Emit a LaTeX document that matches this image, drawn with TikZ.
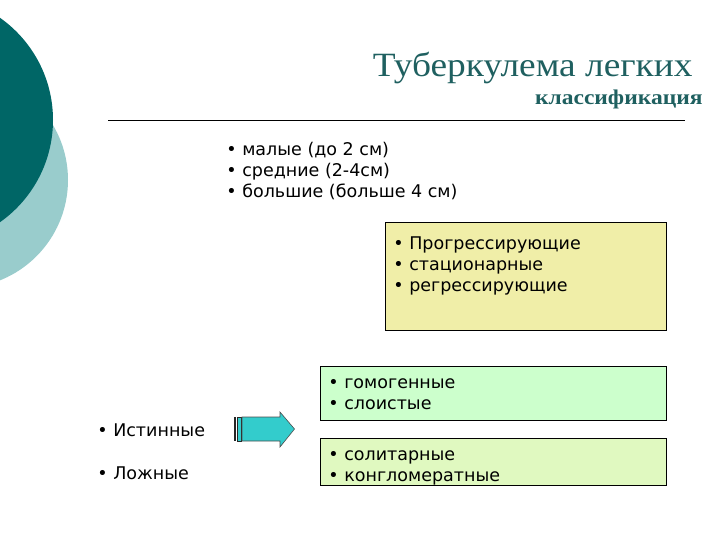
\documentclass[tikz,border=0pt]{standalone}
\usepackage{fontspec}
\setmainfont{DejaVu Sans}
\newfontfamily\titlefont[FakeStretch=1.1]{Liberation Serif}
\newfontfamily\subtitlefont[FakeStretch=1.12]{Liberation Serif}
\definecolor{darkteal}{RGB}{0,102,102}
\definecolor{lightteal}{RGB}{153,204,204}
\definecolor{titleteal}{RGB}{31,96,96}
\definecolor{arrowteal}{RGB}{51,204,204}
\definecolor{progyellow}{RGB}{240,238,168}
\definecolor{formgreen}{RGB}{204,255,204}
\definecolor{countgreen}{RGB}{224,249,192}

\begin{document}
\begin{tikzpicture}[x=1pt, y=-1pt, line width=0.8pt,
	list/.style={anchor=base west, align=left, inner sep=0pt, font=\fontsize{17.5}{20.8}\selectfont},
	box/.style={draw=black, anchor=north west, inner sep=0pt}]
	\useasboundingbox (0,0) rectangle (720,540);
	% background circles
	\fill[lightteal] (-40,180) circle (108);
	\fill[darkteal] (-72,120) circle (125);
	% title
	\node[anchor=base east, inner sep=0pt, text=titleteal, font=\titlefont\fontsize{34}{34}\selectfont] (title) at (693,77) {Туберкулема легких};
	\node[anchor=base east, inner sep=0pt, text=titleteal, font=\subtitlefont\bfseries\fontsize{21}{21}\selectfont] (subtitle) at (703,105) {классификация};
	\draw (108,120.5) -- (685,120.5);
	% size (base = last line)
	\node[list] (sizes) at (226,197.5) {• малые (до 2 см)\\• средние (2-4см)\\• большие (больше 4 см)};
	% course
	\node[box, fill=progyellow, minimum width=281, minimum height=108] (course) at (385,222) {};
	\node[list] (courselist) at (393,291.5) {• Прогрессирующие\\• стационарные\\• регрессирующие};
	% structure and number
	\node[box, fill=formgreen, minimum width=346, minimum height=54] (structure) at (320,366) {};
	\node[list] (structurelist) at (328,409) {• гомогенные\\• слоистые};
	\node[box, fill=countgreen, minimum width=346, minimum height=47] (number) at (320,438) {};
	\node[list] (numberlist) at (328,481) {• солитарные\\• конгломератные};
	% true and false
	\node[list] (truetub) at (97,436) {• Истинные};
	\node[list] (falsetub) at (97,479) {• Ложные};
	% block arrow
	\fill[black!85] (234,417) rectangle (236,441);
	\draw[black!85, fill=arrowteal, line width=0.6pt] (237.5,417) rectangle (241,441);
	\draw[black!70, fill=arrowteal, line width=0.6pt] (242,417) -- (280,417) -- (280,412) -- (294.5,429)
		-- (280,447) -- (280,441) -- (242,441) -- cycle;
\end{tikzpicture}
\end{document}
